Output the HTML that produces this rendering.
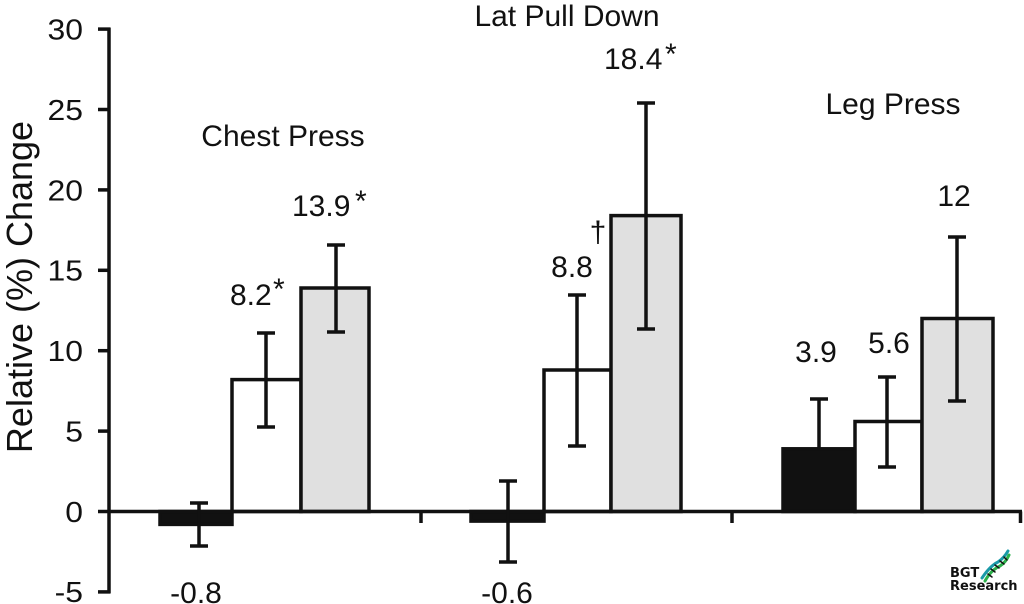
<!DOCTYPE html>
<html>
<head>
<meta charset="utf-8">
<style>
  html,body{margin:0;padding:0;background:#fff;}
  svg{display:block;}
  text{font-family:"Liberation Sans", Arial, sans-serif; fill:#111;}
</style>
</head>
<body>
<svg width="1024" height="604" viewBox="0 0 1024 604" xmlns="http://www.w3.org/2000/svg">
  <rect x="0" y="0" width="1024" height="604" fill="#fff"/>

  <!-- Y axis title -->
  <text transform="translate(32,287) rotate(-90)" text-anchor="middle" font-size="36">Relative (%) Change</text>

  <!-- Y tick labels -->
  <g font-size="29">
    <text transform="translate(83,39.5) scale(1.1,1)" text-anchor="end">30</text>
    <text transform="translate(83,119.9) scale(1.1,1)" text-anchor="end">25</text>
    <text transform="translate(83,200.3) scale(1.1,1)" text-anchor="end">20</text>
    <text transform="translate(83,280.7) scale(1.1,1)" text-anchor="end">15</text>
    <text transform="translate(83,361.1) scale(1.1,1)" text-anchor="end">10</text>
    <text transform="translate(83,441.6) scale(1.1,1)" text-anchor="end">5</text>
    <text transform="translate(83,522) scale(1.1,1)" text-anchor="end">0</text>
    <text transform="translate(83,602) scale(1.1,1)" text-anchor="end">-5</text>
  </g>

  <!-- Y axis + ticks -->
  <g stroke="#111" stroke-width="3.5" fill="none">
    <line x1="109" y1="27.5" x2="109" y2="593.5"/>
    <line x1="98" y1="29.1" x2="110" y2="29.1"/>
    <line x1="98" y1="109.5" x2="110" y2="109.5"/>
    <line x1="98" y1="189.9" x2="110" y2="189.9"/>
    <line x1="98" y1="270.3" x2="110" y2="270.3"/>
    <line x1="98" y1="350.7" x2="110" y2="350.7"/>
    <line x1="98" y1="431.1" x2="110" y2="431.1"/>
    <line x1="98" y1="511.5" x2="110" y2="511.5"/>
    <line x1="98" y1="591.9" x2="110" y2="591.9"/>
  </g>

  <!-- Bars -->
  <g stroke="#111" stroke-width="3.5">
    <!-- Chest Press -->
    <rect x="160" y="511.5" width="72" height="12.9" fill="#111"/>
    <rect x="232" y="379.6" width="69" height="131.9" fill="#fff"/>
    <rect x="301" y="288" width="68" height="223.5" fill="#e0e0e0"/>
    <!-- Lat Pull Down -->
    <rect x="471" y="511.5" width="73" height="9.6" fill="#111"/>
    <rect x="544" y="370" width="67" height="141.5" fill="#fff"/>
    <rect x="611" y="215.6" width="70" height="295.9" fill="#e0e0e0"/>
    <!-- Leg Press -->
    <rect x="783" y="448.8" width="72" height="62.7" fill="#111"/>
    <rect x="855" y="421.5" width="67" height="90" fill="#fff"/>
    <rect x="922" y="318.5" width="71" height="193" fill="#e0e0e0"/>
  </g>

  <!-- Zero line + x ticks -->
  <g stroke="#111" stroke-width="3.5" fill="none">
    <line x1="109" y1="511.5" x2="1022" y2="511.5"/>
    <line x1="421" y1="511.5" x2="421" y2="523"/>
    <line x1="732" y1="511.5" x2="732" y2="523"/>
    <line x1="1020.5" y1="511.5" x2="1020.5" y2="523"/>
  </g>

  <!-- Error bars -->
  <g stroke="#111" stroke-width="3.5" fill="none">
    <!-- Chest black -->
    <line x1="199" y1="503" x2="199" y2="546"/>
    <line x1="190" y1="503" x2="208" y2="503"/>
    <line x1="190" y1="546" x2="208" y2="546"/>
    <!-- Chest white -->
    <line x1="266" y1="333" x2="266" y2="427"/>
    <line x1="257" y1="333" x2="275" y2="333"/>
    <line x1="257" y1="427" x2="275" y2="427"/>
    <!-- Chest gray -->
    <line x1="336" y1="245" x2="336" y2="332"/>
    <line x1="327" y1="245" x2="345" y2="245"/>
    <line x1="327" y1="332" x2="345" y2="332"/>
    <!-- Lat black -->
    <line x1="508" y1="481" x2="508" y2="562"/>
    <line x1="499" y1="481" x2="517" y2="481"/>
    <line x1="499" y1="562" x2="517" y2="562"/>
    <!-- Lat white -->
    <line x1="577" y1="295" x2="577" y2="446"/>
    <line x1="568" y1="295" x2="586" y2="295"/>
    <line x1="568" y1="446" x2="586" y2="446"/>
    <!-- Lat gray -->
    <line x1="646" y1="103" x2="646" y2="329"/>
    <line x1="637" y1="103" x2="655" y2="103"/>
    <line x1="637" y1="329" x2="655" y2="329"/>
    <!-- Leg black -->
    <line x1="819" y1="399" x2="819" y2="449"/>
    <line x1="810" y1="399" x2="828" y2="399"/>
    <!-- Leg white -->
    <line x1="887" y1="377" x2="887" y2="467"/>
    <line x1="878" y1="377" x2="896" y2="377"/>
    <line x1="878" y1="467" x2="896" y2="467"/>
    <!-- Leg gray -->
    <line x1="957" y1="237" x2="957" y2="401"/>
    <line x1="948" y1="237" x2="966" y2="237"/>
    <line x1="948" y1="401" x2="966" y2="401"/>
  </g>

  <!-- Group titles -->
  <g font-size="30" text-anchor="middle">
    <text x="283" y="146">Chest Press</text>
    <text x="567" y="26">Lat Pull Down</text>
    <text x="893" y="114">Leg Press</text>
  </g>

  <!-- Value labels -->
  <g font-size="30">
    <text x="292" y="216">13.9</text>
    <text x="355" y="211" font-size="30">*</text>
    <text x="230" y="305">8.2</text>
    <text x="273" y="299" font-size="30">*</text>
    <text x="196" y="603" text-anchor="middle">-0.8</text>

    <text x="604" y="69">18.4</text>
    <text x="665" y="64" font-size="30">*</text>
    <text x="598" y="242" text-anchor="middle">†</text>
    <text x="572" y="277" text-anchor="middle">8.8</text>
    <text x="507" y="603" text-anchor="middle">-0.6</text>

    <text x="954" y="206" text-anchor="middle">12</text>
    <text x="816" y="362" text-anchor="middle">3.9</text>
    <text x="889" y="353" text-anchor="middle">5.6</text>
  </g>

  <!-- Logo -->
  <g>
    <text x="950" y="577" font-size="13" font-weight="bold" style="font-family:'DejaVu Sans','Liberation Sans',sans-serif">BGT</text>
    <text x="950" y="590" font-size="13" font-weight="bold" style="font-family:'DejaVu Sans','Liberation Sans',sans-serif">Research</text>
    <g stroke-width="3" fill="none" stroke-linecap="round">
      <path d="M982 578 Q990 566 998 562 Q1004 558 1008 551" stroke="#1a9aa8"/>
      <path d="M985 581 Q991 570 1000 566 Q1006 562 1009 555" stroke="#2bb04a"/>
      <line x1="988" y1="574" x2="992" y2="577" stroke="#111" stroke-width="1.5"/>
      <line x1="991" y1="569" x2="995" y2="572" stroke="#111" stroke-width="1.5"/>
      <line x1="995" y1="565" x2="999" y2="568" stroke="#111" stroke-width="1.5"/>
      <line x1="1000" y1="561" x2="1004" y2="564" stroke="#111" stroke-width="1.5"/>
      <line x1="1004" y1="557" x2="1007" y2="560" stroke="#111" stroke-width="1.5"/>
    </g>
  </g>
</svg>
</body>
</html>
